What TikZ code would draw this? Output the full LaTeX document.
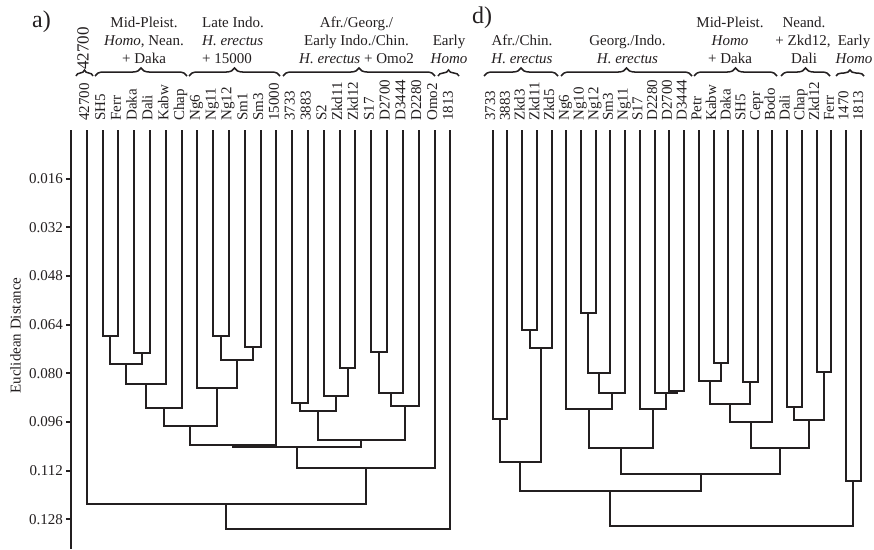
\documentclass[tikz,border=0pt]{standalone}
\usepackage{fontspec}
\setmainfont{Liberation Serif}
\usetikzlibrary{calc,decorations.pathreplacing}
\definecolor{ink}{HTML}{231F20}

% join two subtrees #2 and #3 into a new cluster #1 at depth #4 (pixels from top)
\newcommand\mergepair[4]{%
  \coordinate (#1c) at ($(#2)!0.5!(#3)$);
  \coordinate (#1) at (#1c|-0,#4);
  \draw[branch] (#2) |- (#1) -| (#3);
}

\begin{document}
\begin{tikzpicture}[x=1pt,y=-1pt,
  branch/.style={draw=ink, line width=2pt},
  leaflab/.style={font=\fontsize{15}{18}\selectfont, rotate=90, anchor=base west, inner sep=0pt, text=ink},
  grouplab/.style={font=\fontsize{15}{18}\selectfont, anchor=base, inner sep=0pt, text=ink},
  gbrace/.style={draw=ink, line width=1.5pt, decorate, decoration={brace, amplitude=8pt}},
  smallbrace/.style={gbrace, decoration={brace, amplitude=6pt}},
  ticklab/.style={font=\fontsize{15}{18}\selectfont, anchor=east, inner sep=0pt, text=ink},
  panellab/.style={font=\fontsize{24}{28}\selectfont, anchor=base west, inner sep=0pt, text=ink}]

\useasboundingbox[fill=white] (0,0) rectangle (874,549);

% ---------------- panel a ----------------
\node[panellab] (pa) at (32,27) {a)};

% distance axis
\coordinate (axtop) at (71,130);
\coordinate (axbot) at (71,549);
\draw[branch] (axtop) -- (axbot);
\foreach \v [count=\i] in {0.016,0.032,0.048,0.064,0.080,0.096,0.112,0.128} {
  \coordinate (tk\i) at (71,{130+48.65*\i});
  \draw[branch] (tk\i) -- ++(-5,0);
  \node[ticklab] (tl\i) at (63,{130+48.65*\i}) {\v};
}
\node[font=\fontsize{15}{18}\selectfont, rotate=90, inner sep=0pt, text=ink] (ylab) at (15.5,335.5) {Euclidean Distance};

% leaves
\foreach \t [count=\i from 0] in {42700,SH5,Ferr,Daka,Dali,Kabw,Chap,Ng6,Ng11,Ng12,Sm1,Sm3,15000,3733,3883,S2,Zkd11,Zkd12,S17,D2700,D3444,D2280,Omo2,1813} {
  \coordinate (a\i) at ({86.7+15.81*\i},130);
  \node[leaflab] (la\i) at ({89.2+15.81*\i},121) {\t};
}

% clusters
\mergepair{aSF}{a1}{a2}{335.7}
\mergepair{aDD}{a3}{a4}{353.3}
\mergepair{aM1}{aSF}{aDD}{364.3}
\mergepair{aM2}{aM1}{a5}{384.3}
\mergepair{aM3}{aM2}{a6}{407.7}
\mergepair{aNN}{a8}{a9}{335.7}
\mergepair{aSS}{a10}{a11}{346.7}
\mergepair{aN1}{aNN}{aSS}{360}
\mergepair{aN2}{a7}{aN1}{387.7}
\mergepair{aMN}{aM3}{aN2}{425.7}
\mergepair{aMNb}{aMN}{a12}{445}
\mergepair{aE1}{a13}{a14}{403.3}
\mergepair{aZ}{a16}{a17}{368.3}
\mergepair{aE2}{a15}{aZ}{395.7}
\mergepair{aE3}{aE1}{aE2}{411.3}
\mergepair{aD1}{a18}{a19}{352.3}
\mergepair{aD2}{aD1}{a20}{393.3}
\mergepair{aD3}{aD2}{a21}{406}
\mergepair{aE4}{aE3}{aD3}{440}
\mergepair{aX}{aMNb}{aE4}{446.7}
\mergepair{aXb}{aX}{a22}{467.7}
\mergepair{aXc}{a0}{aXb}{504}
\mergepair{aRoot}{aXc}{a23}{529}

% group headings
\node[font=\fontsize{17}{20}\selectfont, rotate=90, anchor=base west, inner sep=0pt, text=ink] (ga0) at (88.5,70) {42700};
\draw[smallbrace] (76,76) -- (93,76);

\node[grouplab] (ga1a) at (144,27) {Mid-Pleist.};
\node[grouplab] (ga1b) at (144,45) {\textit{Homo}, Nean.};
\node[grouplab] (ga1c) at (144,63) {+ Daka};
\draw[gbrace] (95,76) -- (187,76);

\node[grouplab, anchor=base west] (ga2a) at (202,27) {Late Indo.};
\node[grouplab, anchor=base west] (ga2b) at (202,45) {\textit{H. erectus}};
\node[grouplab, anchor=base west] (ga2c) at (202,63) {+ 15000};
\draw[gbrace] (189,76) -- (280,76);

\node[grouplab] (ga3a) at (356.5,27) {Afr./Georg./};
\node[grouplab] (ga3b) at (356.5,45) {Early Indo./Chin.};
\node[grouplab] (ga3c) at (356.5,63) {\textit{H. erectus} + Omo2};
\draw[gbrace] (283,76) -- (435,76);

\node[grouplab] (ga4a) at (449,45) {Early};
\node[grouplab] (ga4b) at (449,63) {\textit{Homo}};
\draw[smallbrace] (438,76) -- (459,76);

% ---------------- panel d ----------------
\node[panellab] (pd) at (472,23) {d)};

\foreach \t [count=\i from 0] in {3733,3883,Zkd3,Zkd11,Zkd5,Ng6,Ng10,Ng12,Sm3,Ng11,S17,D2280,D2700,D3444,Petr,Kabw,Daka,SH5,Cepr,Bodo,Dali,Chap,Zkd12,Ferr,1470,1813} {
  \coordinate (d\i) at ({492.7+14.72*\i},130);
  \node[leaflab] (ld\i) at ({495.2+14.72*\i},121) {\t};
}

\mergepair{dA}{d2}{d3}{330}
\mergepair{dAb}{dA}{d4}{348.3}
\mergepair{dB}{d0}{d1}{419.3}
\mergepair{dC}{dB}{dAb}{462.3}
\mergepair{dN1}{d6}{d7}{313.3}
\mergepair{dN2}{dN1}{d8}{373.3}
\mergepair{dN3}{dN2}{d9}{392.7}
\mergepair{dN4}{d5}{dN3}{409.3}
\mergepair{dDa}{d12}{d13}{391}
\mergepair{dDb}{d11}{dDa}{392.7}
\mergepair{dDc}{d10}{dDb}{409.3}
\mergepair{dG}{dN4}{dDc}{448.3}
\mergepair{dP1}{d15}{d16}{362.7}
\mergepair{dP2}{d14}{dP1}{381}
\mergepair{dP3}{d17}{d18}{382.3}
\mergepair{dP4}{dP2}{dP3}{404}
\mergepair{dP5}{dP4}{d19}{421.7}
\mergepair{dQ1}{d20}{d21}{407.3}
\mergepair{dQ2}{d22}{d23}{372.3}
\mergepair{dQ3}{dQ1}{dQ2}{420}
\mergepair{dPQ}{dP5}{dQ3}{448.3}
\mergepair{dGP}{dG}{dPQ}{474}
\mergepair{dCG}{dC}{dGP}{491}
\mergepair{dH}{d24}{d25}{480.7}
\mergepair{dRoot}{dCG}{dH}{526}

% group headings
\node[grouplab] (gd1a) at (522,45) {Afr./Chin.};
\node[grouplab] (gd1b) at (522,63) {\textit{H. erectus}};
\draw[gbrace] (484,76) -- (558,76);

\node[grouplab] (gd2a) at (627.5,45) {Georg./Indo.};
\node[grouplab] (gd2b) at (627.5,63) {\textit{H. erectus}};
\draw[gbrace] (561,76) -- (692,76);

\node[grouplab] (gd3a) at (730,27) {Mid-Pleist.};
\node[grouplab] (gd3b) at (730,45) {\textit{Homo}};
\node[grouplab] (gd3c) at (730,63) {+ Daka};
\draw[gbrace] (694,76) -- (777,76);

\node[grouplab] (gd4a) at (804,27) {Neand.};
\node[grouplab] (gd4b) at (803,45) {+ Zkd12,};
\node[grouplab] (gd4c) at (804,63) {Dali};
\draw[gbrace] (781,76) -- (830,76);

\node[grouplab] (gd5a) at (854,45) {Early};
\node[grouplab] (gd5b) at (854,63) {\textit{Homo}};
\draw[smallbrace] (836,76) -- (864,76);

\end{tikzpicture}
\end{document}
